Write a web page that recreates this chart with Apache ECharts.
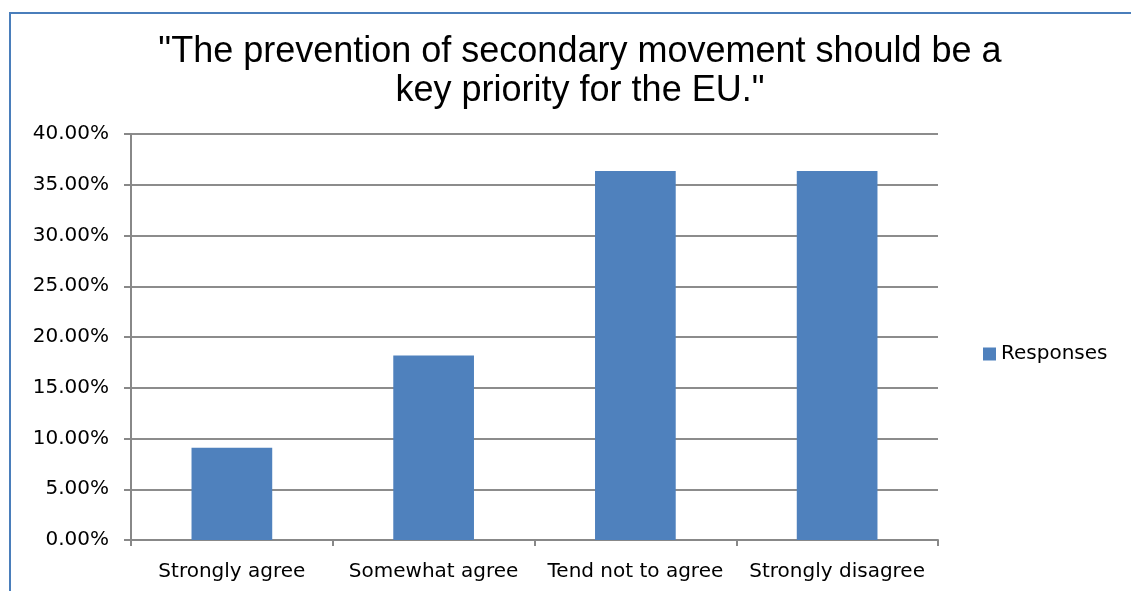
<!DOCTYPE html>
<html>
<head>
<meta charset="utf-8">
<script src="https://cdn.jsdelivr.net/npm/echarts@6/dist/echarts.min.js"></script>
<style>
  html, body { margin: 0; padding: 0; background: #fff; }
  #frame {
    position: absolute; left: 9px; top: 12px; width: 1140px; height: 600px;
    border-top: 2px solid #4a7ebb; border-left: 2px solid #4a7ebb;
  }
  #chart { position: absolute; left: 0; top: 0; width: 1131px; height: 591px; }
</style>
</head>
<body>
<div id="frame"></div>
<div id="chart"></div>
<script>
// categories and values (share of responses, %)
const categories = ["Strongly agree", "Somewhat agree", "Tend not to agree", "Strongly disagree"];
const responses = [9.09, 18.18, 36.36, 36.36];
const seriesName = "Responses";

const chart = echarts.init(document.getElementById("chart"));
const labelFont = "'DejaVu Sans', 'Open Sans', sans-serif";

chart.setOption({
  animation: false,
  title: {
    text: '"The prevention of secondary movement should be a\nkey priority for the EU."',
    left: 575,
    top: 28,
    textAlign: "center",
    textStyle: {
      fontFamily: "'Liberation Sans', Arial, sans-serif",
      fontSize: 36,
      fontWeight: "normal",
      color: "#000",
      lineHeight: 39
    }
  },
  legend: {
    data: [seriesName],
    left: 978,
    top: 339,
    itemWidth: 13,
    itemHeight: 13,
    itemGap: 8,
    icon: "rect",
    textStyle: { fontFamily: labelFont, fontSize: 20, color: "#000" }
  },
  grid: { left: 131, right: 193, top: 134, bottom: 51 },
  xAxis: {
    type: "category",
    data: categories,
    axisLine: { lineStyle: { color: "#888", width: 2 } },
    axisTick: { show: true, length: 6, lineStyle: { color: "#888", width: 2 } },
    axisLabel: { fontFamily: labelFont, fontSize: 20, color: "#000", margin: 22, interval: 0 }
  },
  yAxis: {
    type: "value",
    min: 0,
    max: 40,
    interval: 5,
    axisLine: { show: true, lineStyle: { color: "#888", width: 2 } },
    axisTick: { show: true, length: 7, lineStyle: { color: "#888", width: 2 } },
    splitLine: { lineStyle: { color: "#8c8c8c", width: 2 } },
    axisLabel: {
      fontFamily: labelFont, fontSize: 20, color: "#000", margin: 22,
      formatter: v => v.toFixed(2) + "%"
    }
  },
  series: [{
    name: seriesName,
    type: "bar",
    data: responses,
    barWidth: "40%",
    itemStyle: { color: "#4f81bd" }
  }]
});
</script>
</body>
</html>
